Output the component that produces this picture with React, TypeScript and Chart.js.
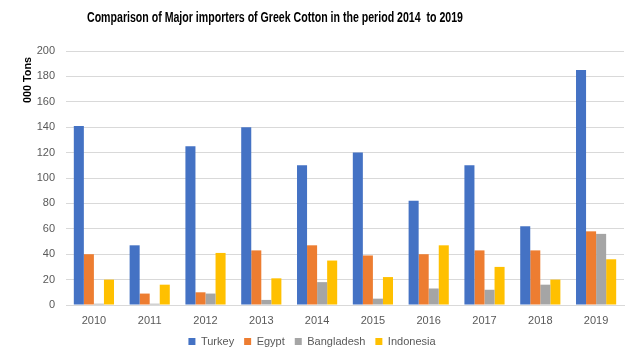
import React, { useEffect, useRef } from "react";
import { Chart, registerables } from "chart.js";

Chart.register(...registerables);

const years = ["2010", "2011", "2012", "2013", "2014", "2015", "2016", "2017", "2018", "2019"];
const turkey = [141, 47, 125, 140, 110, 120, 82, 110, 62, 185];
const egypt = [40, 9, 10, 43, 47, 39, 40, 43, 43, 58];
const bangladesh = [1, 1, 9, 4, 18, 5, 13, 12, 16, 56];
const indonesia = [20, 16, 41, 21, 35, 22, 47, 30, 20, 36];

const TITLE = "Comparison of Major importers of Greek Cotton in the period 2014  to 2019";
const Y_TITLE = "000 Tons";
const FONT = "'Liberation Sans', Arial, sans-serif";

function drawFitted(ctx: CanvasRenderingContext2D, text: string, targetW: number) {
  const w = ctx.measureText(text).width;
  const s = Math.min(1, targetW / w);
  ctx.save();
  ctx.scale(s, 1);
  ctx.fillText(text, 0, 0);
  ctx.restore();
}

const titlesPlugin = {
  id: "customTitles",
  afterDraw(chart: any) {
    const ctx = chart.ctx as CanvasRenderingContext2D;
    ctx.save();
    ctx.fillStyle = "#000";
    ctx.textAlign = "center";
    ctx.textBaseline = "middle";
    ctx.font = `bold 14px ${FONT}`;
    ctx.save();
    ctx.translate(275, 18);
    drawFitted(ctx, TITLE, 376);
    ctx.restore();
    ctx.save();
    ctx.translate(28, 80);
    ctx.rotate(-Math.PI / 2);
    ctx.font = `bold 11px ${FONT}`;
    drawFitted(ctx, Y_TITLE, 46);
    ctx.restore();
    ctx.restore();
  },
};

export default function App() {
  const ref = useRef<HTMLCanvasElement | null>(null);
  useEffect(() => {
    if (!ref.current) return;
    const mk = (label: string, data: number[], color: string) => ({
      label,
      data,
      backgroundColor: color,
      borderWidth: 0,
      categoryPercentage: 0.72,
      barPercentage: 1.0,
    });
    const chart = new Chart(ref.current, {
      type: "bar",
      data: {
        labels: years,
        datasets: [
          mk("Turkey", turkey, "#4472C4"),
          mk("Egypt", egypt, "#ED7D31"),
          mk("Bangladesh", bangladesh, "#A5A5A5"),
          mk("Indonesia", indonesia, "#FFC000"),
        ],
      },
      plugins: [titlesPlugin],
      options: {
        animation: false,
        responsive: false,
        maintainAspectRatio: false,
        layout: { padding: { left: 0, right: 8, top: 51, bottom: 0 } },
        plugins: {
          title: { display: false },
          legend: {
            position: "bottom",
            maxHeight: 28,
            labels: {
              boxWidth: 7,
              boxHeight: 7,
              padding: 10,
              color: "#595959",
              font: { family: FONT, size: 11 },
            },
          },
          tooltip: { enabled: false },
        },
        scales: {
          x: {
            afterFit(scale: any) {
              scale.height = 21;
            },
            grid: { display: false, drawTicks: false },
            border: { color: "#d9d9d9" },
            ticks: {
              color: "#595959",
              padding: 9,
              font: { family: FONT, size: 11 },
            },
          },
          y: {
            min: 0,
            max: 200,
            afterFit(scale: any) {
              scale.width = 66;
            },
            ticks: {
              stepSize: 20,
              color: "#595959",
              padding: 11,
              font: { family: FONT, size: 11 },
            },
            grid: { color: "#d9d9d9", drawTicks: false },
            border: { display: false },
          },
        },
      },
    });
    return () => chart.destroy();
  }, []);
  return (
    <div style={{ position: "fixed", left: 0, top: 0, width: 632, height: 354, background: "#fff" }}>
      <canvas ref={ref} width={632} height={354} style={{ width: 632, height: 354 }} />
    </div>
  );
}
